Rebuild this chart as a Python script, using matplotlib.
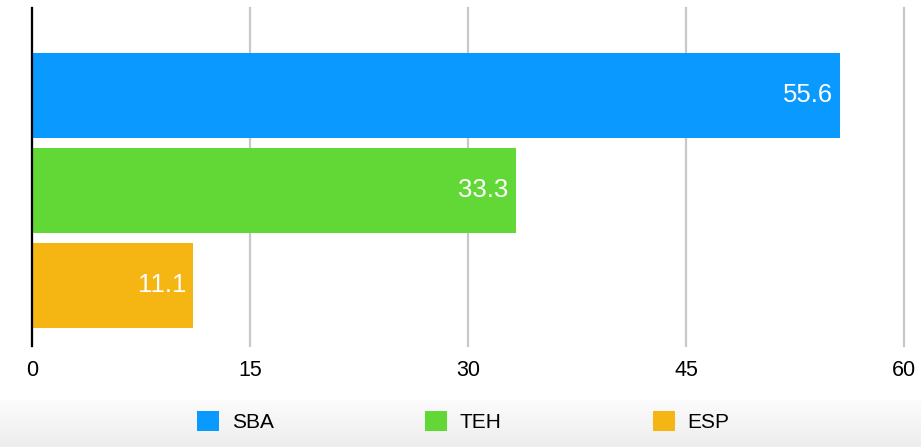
import numpy as np
import matplotlib.pyplot as plt
from matplotlib.patches import Patch
from matplotlib.colors import LinearSegmentedColormap

plt.rcParams['font.family'] = ['Liberation Sans', 'DejaVu Sans']

categories = ['SBA', 'TEH', 'ESP']
values = [55.6, 33.3, 11.1]
colors = ['#0a99ff', '#62d836', '#f5b512']
x_ticks = [0, 15, 30, 45, 60]

fig = plt.figure(figsize=(9.21, 4.47), dpi=100)

# light gray strip behind the legend
strip = fig.add_axes([0, 0, 1, 0.106], zorder=-1)
grad = np.linspace(0, 1, 64).reshape(-1, 1)
cmap = LinearSegmentedColormap.from_list('strip', ['#ededed', '#fcfcfc'])
strip.imshow(grad, aspect='auto', cmap=cmap, origin='lower', extent=[0, 1, 0, 1])
strip.axis('off')

ax = fig.add_axes([32 / 921, 101 / 447, 872 / 921, 338 / 447])
y = np.arange(len(categories))
bars = ax.barh(y, values, height=0.895, color=colors, zorder=2)

for bar, v in zip(bars, values):
    ax.text(bar.get_width() - 0.5, bar.get_y() + bar.get_height() / 2, f'{v}',
            ha='right', va='center', color='white', fontsize=18.5, zorder=3)

ax.set_xlim(0, 60)
ax.set_ylim(2.64, -0.92)
ax.set_xticks(x_ticks)
ax.set_xticklabels([str(t) for t in x_ticks], fontsize=15.5)
ax.set_yticks([])
ax.grid(axis='x', color='#c8c8c8', linewidth=1.6, zorder=0)
for gl in ax.get_xgridlines():
    gl.set_clip_on(False)
ax.tick_params(axis='x', length=0, pad=10)
for s in ['top', 'right', 'bottom']:
    ax.spines[s].set_visible(False)
ax.spines['left'].set_color('black')
ax.spines['left'].set_linewidth(1.6)
ax.spines['left'].set_zorder(4)

handles = [Patch(facecolor=c, label=n) for c, n in zip(colors, categories)]
fig.legend(handles=handles, loc='center', bbox_to_anchor=(0.503, 0.058), ncol=3,
           frameon=False, fontsize=15, handlelength=1.05, handleheight=1.1,
           columnspacing=7.25, handletextpad=0.63)

fig.savefig('out.png', dpi=100)
